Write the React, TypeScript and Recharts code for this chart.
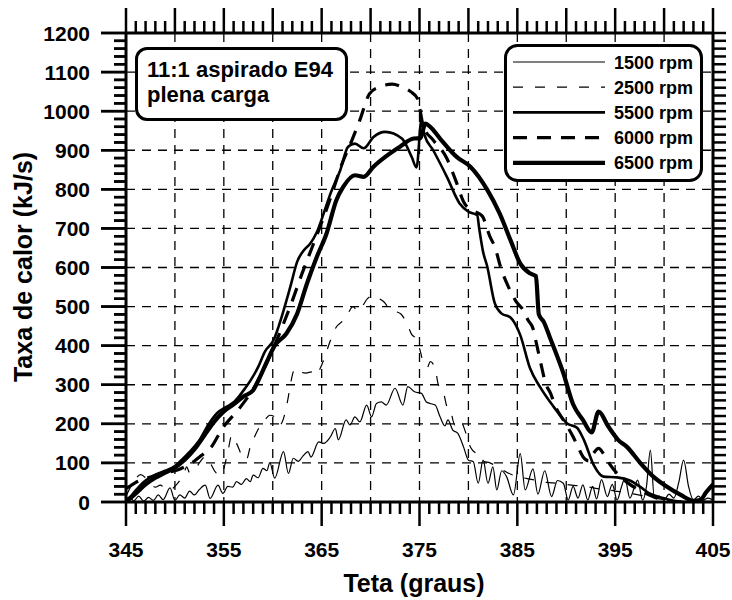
import { LineChart, Line, XAxis, YAxis, CartesianGrid, Legend, ReferenceLine } from "recharts";

const FONT = '"Liberation Sans", Arial, Helvetica, sans-serif';

// axis values
const xLabelTicks = [345, 355, 365, 375, 385, 395, 405];
const xGridLines = [350, 355, 360, 365, 370, 375, 380, 385, 390, 395, 400];
const yLabelTicks = [0, 100, 200, 300, 400, 500, 600, 700, 800, 900, 1000, 1100, 1200];
const yGridLines = [100, 200, 300, 400, 500, 600, 700, 800, 900, 1000, 1100];
const xMinorTicks = Array.from({ length: 61 }, (_, i) => 345 + i);
const yMinorTicks = Array.from({ length: 61 }, (_, i) => i * 20);

// [teta (graus), taxa de calor (kJ/s)]
const rpm1500: [number, number][] = [
  [345, 5], [345.4, 12], [345.8, 3], [346.3, 15], [346.8, 2], [347.3, 12], [347.8, 4], [348.3, 18],
  [348.8, 6], [349.5, 36], [350, 4], [350.5, 18], [351, 10], [351.5, 28], [352, 18], [352.5, 32],
  [353.1, 43], [353.6, 9], [354.4, 43], [354.9, 22], [355.4, 40], [355.9, 38], [356.3, 52], [356.8, 45],
  [357.3, 60], [357.7, 52], [358, 69], [358.5, 62], [359, 86], [359.4, 80], [359.7, 101], [360.2, 61],
  [361.1, 129], [361.6, 73], [362.1, 112], [362.6, 104], [363.1, 118], [363.6, 129], [363.9, 115],
  [364.7, 154], [365.2, 150], [365.9, 167], [366.4, 188], [366.7, 159], [367.5, 210], [367.9, 197],
  [368.4, 218], [368.9, 205], [369.6, 248], [370.1, 218], [370.6, 252], [371.1, 256], [371.6, 248],
  [372.5, 291], [373.3, 248], [373.8, 295], [374.5, 282], [375.2, 278], [375.7, 256], [376.1, 252],
  [376.6, 248], [377.1, 218], [377.6, 195], [377.9, 210], [378.4, 184], [378.9, 176], [379.5, 141],
  [380, 107], [380.5, 103], [381, 48], [381.5, 107], [382, 48], [382.5, 90], [382.9, 31], [383.4, 80],
  [383.9, 65], [384.6, 18], [385.3, 124], [385.8, 31], [386.6, 85], [387.1, 20], [387.8, 80], [388.5, 14],
  [389.1, 55], [389.7, 48], [390.2, 5], [390.7, 40], [391.2, 10], [391.7, 44], [392.2, 5], [392.7, 40],
  [393.1, 8], [393.6, 57], [394.2, 14], [394.7, 45], [395.2, 5], [395.6, 35], [396, 61], [396.5, 10],
  [397, 40], [397.3, 56], [397.8, 5], [398.2, 40], [398.6, 133], [399, 10], [399.5, 15], [400, 5],
  [400.5, 20], [401, 10], [401.5, 50], [402, 107], [402.5, 40], [403, 5], [403.5, 15], [404, 5],
  [404.5, 10], [405, 5],
];

const rpm2500: [number, number][] = [
  [345, 15], [345.5, 40], [346, 60], [346.5, 70], [347, 62], [347.5, 48], [348, 38], [348.5, 43],
  [349, 35], [349.5, 30], [350, 40], [350.5, 55], [350.9, 70], [351.2, 90], [351.5, 75], [352, 80],
  [352.5, 100], [353.1, 116], [353.6, 100], [354.2, 75], [354.8, 70], [355.1, 95], [355.5, 140],
  [355.8, 171], [356.3, 150], [357, 112], [357.3, 108], [357.7, 141], [358.2, 170], [358.7, 195],
  [359.2, 210], [359.7, 222], [360.2, 218], [360.7, 197], [361.3, 232], [361.6, 270], [361.8, 300],
  [362.3, 342], [362.8, 333], [363.4, 330], [364, 333], [364.5, 325], [364.8, 339], [365.2, 363],
  [365.9, 414], [366.4, 444], [367.4, 470], [367.7, 483], [368.2, 500], [368.7, 488], [369, 495],
  [369.7, 521], [370.4, 529], [370.9, 520], [371.4, 511], [371.9, 495], [372.5, 488], [373.1, 481],
  [373.7, 457], [374.2, 429], [374.7, 416], [375.1, 384], [375.4, 355], [375.8, 345], [376.1, 359],
  [376.6, 342], [376.9, 302], [377.1, 290], [377.5, 275], [377.8, 245], [378.1, 240], [378.6, 197],
  [379.1, 210], [379.8, 172], [380.2, 141], [381, 120], [381.5, 105], [382.2, 100], [383, 90],
  [384, 75], [385, 65], [386, 60], [387, 55], [388, 50], [389, 48], [390, 45], [391, 42], [392, 40],
  [393, 35], [394, 32], [395, 28], [396, 25], [397, 20], [398, 15], [399, 10], [400, 6], [401, 3],
  [402, 0], [405, 0],
];

const rpm5500: [number, number][] = [
  [345, 5], [345.5, 15], [346, 30], [347, 55], [348, 70], [349, 80], [350, 92], [350.5, 103],
  [351.5, 128], [352.5, 158], [353.4, 197], [354.3, 227], [355.3, 244], [356.1, 257], [357, 285],
  [357.7, 310], [358.5, 345], [359.2, 385], [360.1, 415], [360.7, 457], [361.8, 551], [362.5, 615],
  [363.2, 645], [363.8, 660], [364.5, 690], [365.2, 738], [365.9, 789], [366.9, 849], [367.7, 909],
  [368.4, 917], [369.3, 905], [370.3, 934], [371.5, 947], [373.2, 930], [374.2, 883], [374.7, 856],
  [375.2, 978], [375.5, 940], [376.4, 900], [377.8, 832], [379.1, 764], [380, 743], [380.9, 734],
  [381.1, 700], [381.5, 640], [381.9, 605], [382.7, 508], [383.4, 482], [384.3, 472], [385.3, 427],
  [386.3, 342], [387.3, 295], [388.7, 244], [390.1, 201], [391.1, 190], [391.8, 159], [392.8, 95],
  [393.8, 65], [395.2, 63], [396.5, 55], [397.5, 40], [398.5, 22], [399.9, 10], [401, 3], [402, 0],
  [405, 0],
];

const rpm6000: [number, number][] = [
  [345, 35], [345.5, 42], [346, 50], [347, 60], [348, 68], [349, 75], [350, 80], [351, 90], [352, 105],
  [353, 125], [353.6, 137], [354.9, 190], [356.6, 240], [357.9, 285], [359, 335], [360, 390],
  [361, 450], [362, 515], [363, 585], [364, 650], [365, 715], [366, 785], [367, 860], [368.1, 926],
  [368.9, 977], [369.9, 1045], [370.9, 1062], [372.2, 1069], [373.2, 1062], [374.1, 1050],
  [374.8, 1032], [375, 1010], [375.4, 960], [376.4, 926], [377.8, 879], [378.7, 823], [379.6, 764],
  [380.5, 745], [381.4, 732], [382.2, 679], [382.7, 653], [383.3, 600], [384.1, 550], [384.9, 512],
  [385.6, 491], [386.1, 465], [386.6, 444], [387, 400], [387.4, 355], [387.9, 303], [388.4, 278],
  [388.9, 244], [389.7, 210], [390.7, 167], [391.2, 141], [391.7, 116], [392.3, 105], [392.8, 125],
  [393.3, 137], [393.9, 120], [394.5, 95], [395.5, 65], [396.5, 45], [397.5, 30], [398.5, 18],
  [399.5, 8], [400.5, 2], [401.5, 0], [405, 0],
];

const rpm6500: [number, number][] = [
  [345, 0], [346, 22], [347, 45], [348, 62], [349, 75], [350, 88], [351, 108], [352, 135], [353, 170],
  [354, 205], [355, 232], [356, 250], [357, 270], [358, 286], [358.7, 320], [359.4, 359], [360.2, 400],
  [361.4, 431], [362.5, 482], [363.5, 559], [364.5, 627], [365.5, 687], [366.5, 772], [367.2, 806],
  [368.4, 836], [369.3, 832], [370.3, 858], [371.5, 883], [373, 909], [374.4, 930], [375.1, 931],
  [375.6, 968], [376.1, 960], [377.1, 930], [378.8, 883], [380.2, 858], [381.9, 800], [383.2, 738],
  [384.3, 670], [385.3, 610], [386.3, 585], [386.9, 578], [387.2, 480], [387.7, 461], [388.3, 423],
  [389.7, 330], [390.7, 250], [391.7, 210], [392.6, 178], [393.3, 231], [394.3, 193], [395.3, 159],
  [396.2, 141], [397.6, 99], [398.9, 65], [400.3, 39], [401.7, 18], [403, 3], [403.7, 5], [404.3, 25],
  [405, 45],
];

const series = [
  { name: "1500 rpm", points: rpm1500, width: 1.2, dash: undefined as string | undefined },
  { name: "2500 rpm", points: rpm2500, width: 1.2, dash: "10 12" },
  { name: "5500 rpm", points: rpm5500, width: 2.6, dash: undefined },
  { name: "6000 rpm", points: rpm6000, width: 3.2, dash: "14 10" },
  { name: "6500 rpm", points: rpm6500, width: 4.2, dash: undefined },
];

const toRows = (pts: [number, number][]) => pts.map(([t, q]) => ({ t, q }));

const labelStyle = { fontFamily: FONT, fontWeight: 700, fontSize: 21, fill: "#000" };

// bottom: long ticks at the labelled values, short ones every degree
const BottomTick = ({ x, y, payload }: any) => {
  const major = xLabelTicks.includes(payload.value);
  return (
    <g>
      <path d={`M${+x},${+y}V${+y + (major ? 24 : 12)}`} stroke="#000" strokeWidth={2.5} />
      {major && (
        <text x={x} y={+y + 55} textAnchor="middle" {...labelStyle}>
          {payload.value}
        </text>
      )}
    </g>
  );
};

const TopTick = ({ x, y, payload }: any) => {
  const major = (payload.value - 345) % 5 === 0;
  return <path d={`M${+x},${+y}V${+y - (major ? 25 : 12)}`} stroke="#000" strokeWidth={2.5} />;
};

// left tick marks: drawn by the wide outer axis, whose inner edge is 1px off the frame
const LeftMark = ({ x, y, payload }: any) => {
  const major = payload.value % 100 === 0;
  return <path d={`M${+x + 1},${+y}H${+x + 1 - (major ? 25 : 12)}`} stroke="#000" strokeWidth={2.5} />;
};

// same marks again from the reference lines, which start at the frame
const leftMarkShape = (major: boolean) => (p: any) => {
  const x = Math.min(+p.x1, +p.x2);
  return <path d={`M${x},${+p.y1}H${x - (major ? 25 : 12)}`} stroke="#000" strokeWidth={2.5} />;
};

const LeftLabel = ({ x, y, payload }: any) => (
  <text x={+x - 36} y={+y + 7.5} textAnchor="end" {...labelStyle}>
    {payload.value}
  </text>
);

const RightTick = ({ x, y }: any) => (
  <path d={`M${+x},${+y}H${+x + 13}`} stroke="#000" strokeWidth={2.5} />
);

const XTitle = ({ viewBox }: any) => (
  <text x={viewBox.x + viewBox.width / 2 - 5.5} y={viewBox.y + 90} textAnchor="middle" fontFamily={FONT}
    fontWeight={700} fontSize={25} fill="#000">
    Teta (graus)
  </text>
);

const YTitle = ({ viewBox }: any) => (
  <text transform={`translate(${viewBox.x + 7},${viewBox.y + viewBox.height / 2 - 0.5}) rotate(-90)`}
    textAnchor="middle" fontFamily={FONT} fontWeight={700} fontSize={25} fill="#000">
    Taxa de calor (kJ/s)
  </text>
);

const LegendBox = () => (
  <svg width={200} height={139} style={{ display: "block" }}>
    <rect x={1.5} y={1.5} width={196} height={135} rx={12} fill="#fff" stroke="#000" strokeWidth={3} />
    {series.map((s, i) => (
      <g key={s.name}>
        <line x1={9} x2={101} y1={18 + i * 25.2} y2={18 + i * 25.2} stroke="#000"
          strokeWidth={s.width} strokeDasharray={s.dash} />
        <text x={110} y={18 + i * 25.2 + 6.5} fontFamily={FONT} fontWeight={700} fontSize={18} fill="#000">
          {s.name}
        </text>
      </g>
    ))}
  </svg>
);

const axisLine = { stroke: "#000", strokeWidth: 3 };

export default function App() {
  return (
    <div style={{ position: "absolute", left: 0, top: 0, width: 732, height: 600, background: "#fff" }}>
      <LineChart width={732} height={600} margin={{ top: 32, right: 18, bottom: 18, left: 25 }}>
        <CartesianGrid
          verticalValues={xGridLines}
          horizontalValues={yGridLines}
          stroke="#000"
          strokeWidth={1.3}
          strokeDasharray="9 7"
        />
        <XAxis dataKey="t" type="number" domain={[345, 405]} ticks={xMinorTicks} interval={0}
          tickSize={0} tickMargin={0} height={80} axisLine={axisLine} tick={BottomTick} allowDataOverflow
          label={<XTitle />} />
        <XAxis xAxisId="top" orientation="top" dataKey="t" type="number" domain={[345, 405]} ticks={xMinorTicks}
          interval={0} tickSize={0} tickMargin={0} height={1} axisLine={axisLine} tick={TopTick} allowDataOverflow />
        {/* id 0 sits on the frame: it draws the frame line and the labels */}
        <YAxis dataKey="q" type="number" domain={[0, 1200]} ticks={yLabelTicks} interval={0} tickSize={0}
          tickMargin={0} width={1} axisLine={axisLine} tick={LeftLabel} allowDataOverflow />
        <YAxis yAxisId="marks" dataKey="q" type="number" domain={[0, 1200]} ticks={yMinorTicks}
          interval={0} tickSize={0} tickMargin={0} width={100} axisLine={false} tick={LeftMark} allowDataOverflow
          label={<YTitle />} />
        <YAxis yAxisId="right" orientation="right" dataKey="q" type="number" domain={[0, 1200]} ticks={yMinorTicks}
          interval={0} tickSize={0} tickMargin={0} width={1} axisLine={axisLine} tick={RightTick} allowDataOverflow />
        <Legend layout="vertical" align="center" verticalAlign="middle"
          wrapperStyle={{ left: 504, top: 44, width: 200, height: 139 }} content={LegendBox} />
        {series.map((s) => (
          <Line key={s.name} data={toRows(s.points)} dataKey="q" name={s.name} type="monotone"
            stroke="#000" strokeWidth={s.width} strokeDasharray={s.dash} dot={false} activeDot={false}
            isAnimationActive={false} />
        ))}
        {yMinorTicks.map((v) => (
          <ReferenceLine key={`m${v}`} y={v} ifOverflow="visible" stroke="#000"
            shape={leftMarkShape(v % 100 === 0)} />
        ))}
        {/* invisible copies so the frame axes get a domain from a series */}
        <Line data={toRows(rpm1500)} dataKey="q" xAxisId="top" yAxisId="right" stroke="none" dot={false}
          activeDot={false} legendType="none" isAnimationActive={false} />
        <Line data={toRows(rpm1500)} dataKey="q" yAxisId="marks" stroke="none" dot={false}
          activeDot={false} legendType="none" isAnimationActive={false} />
      </LineChart>
      <div style={{ position: "absolute", left: 135, top: 47, width: 213, height: 74, boxSizing: "border-box",
        border: "3px solid #000", borderRadius: 12, background: "#fff", padding: "7px 0 0 9px",
        fontFamily: FONT, fontWeight: 700, fontSize: 22, lineHeight: "25px", color: "#000", whiteSpace: "nowrap" }}>
        11:1 aspirado E94<br />plena carga
      </div>
    </div>
  );
}
